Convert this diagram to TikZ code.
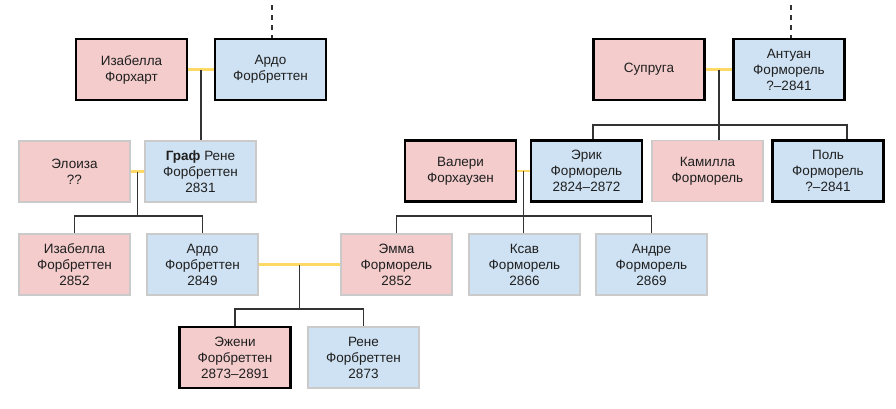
\documentclass[tikz,border=0pt]{standalone}
\usepackage{fontspec}
\setmainfont{Liberation Sans}
\usetikzlibrary{calc}
\definecolor{rosa}{HTML}{F4CCCC}
\definecolor{celeste}{HTML}{CFE2F3}
\definecolor{rim}{HTML}{CACACA}
\definecolor{wed}{HTML}{FFD966}
\definecolor{kin}{HTML}{333333}

\begin{document}
\begin{tikzpicture}[x=1pt,y=-1pt,
	person/.style={minimum width=111pt,minimum height=61pt,inner sep=0pt,align=center,
		font=\fontsize{13.5}{16}\selectfont,text=black!88,draw=rim,line width=1.2pt},
	she/.style={person,fill=rosa},
	he/.style={person,fill=celeste},
	main/.style={draw=black,line width=2.2pt},
	wedline/.style={draw=wed,line width=2.2pt},
	kinline/.style={draw=kin,line width=1.3pt}]
			%%%%% START %%%%%
			\useasboundingbox (0,0) rectangle (896,408);
			
			% generation 1
			\node[she,main] (isaFh) at (131.5,69.5) {Изабелла\\Форхарт};
			\node[he,main] (ardoA) at (270.5,69.5) {Ардо\\Форбреттен};
			\node[she,main] (suprug) at (649,69.5) {Супруга};
			\node[he,main] (antuan) at (789,69.5) {Антуан\\Форморель\\?--2841};
			
			% generation 2
			\node[she] (eloiz) at (74.5,171.5) {Элоиза\\??};
			\node[he] (reneA) at (200.5,171.5) {\textbf{Граф} Рене\\Форбреттен\\2831};
			\node[she,main] (valer) at (460.5,171) {Валери\\Форхаузен};
			\node[he,main] (erik) at (586.5,171) {Эрик\\Форморель\\2824--2872};
			\node[she] (kamil) at (707.5,171) {Камилла\\Форморель};
			\node[he,main] (pol) at (828,171) {Поль\\Форморель\\?--2841};
			
			% generation 3
			\node[she] (isaFb) at (74.5,264.5) {Изабелла\\Форбреттен\\2852};
			\node[he] (ardoB) at (202.5,264.5) {Ардо\\Форбреттен\\2849};
			\node[she] (emma) at (396.5,264.5) {Эмма\\Форморель\\2852};
			\node[he] (ksav) at (524.5,264.5) {Ксав\\Форморель\\2866};
			\node[he] (andre) at (651.5,264.5) {Андре\\Форморель\\2869};
			
			% generation 4
			\node[she,main] (eugen) at (235,357.5) {Эжени\\Форбреттен\\2873--2891};
			\node[he] (reneB) at (363.5,357.5) {Рене\\Форбреттен\\2873};
			
			% ancestors off the chart
			\coordinate (upA) at (272,5);
			\coordinate (upB) at (791,5);
			\draw[kinline,dash pattern=on 5pt off 5pt] (upA) -- (upA |- ardoA.north);
			\draw[kinline,dash pattern=on 5pt off 5pt] (upB) -- (upB |- antuan.north);
			
			% Изабелла + Ардо
			\draw[wedline] (isaFh.east) -- (ardoA.west);
			\coordinate (mA) at ($(isaFh.east)!0.5!(ardoA.west)$);
			\draw[kinline] (mA) -- (mA |- reneA.north);
			
			% Элоиза + Рене
			\draw[wedline] (eloiz.east) -- (reneA.west);
			\coordinate (mB) at ($(eloiz.east)!0.5!(reneA.west)$);
			\coordinate (jB) at (mB |- 0,216);
			\draw[kinline] (mB) -- (jB);
			\draw[kinline] (isaFb.north) |- (jB) -| (ardoB.north);
			
			% Супруга + Антуан
			\draw[wedline] (suprug.east) -- (antuan.west);
			\coordinate (mC) at ($(suprug.east)!0.5!(antuan.west)$);
			\coordinate (jC) at (mC |- 0,125);
			\draw[kinline] (mC) -- (mC |- kamil.north);
			\draw[kinline] ([xshift=6.5pt]erik.north) |- (jC) -| ([xshift=19pt]pol.north);
			
			% Валери + Эрик
			\draw[wedline] (valer.east) -- (erik.west);
			\coordinate (mD) at ($(valer.east)!0.5!(erik.west)$);
			\coordinate (jD) at (mD |- 0,216);
			\draw[kinline] (mD) -- (mD |- ksav.north);
			\draw[kinline] (emma.north) |- (jD) -| (andre.north);
			
			% Ардо + Эмма
			\draw[wedline] (ardoB.east) -- (emma.west);
			\coordinate (mE) at ($(ardoB.east)!0.5!(emma.west)$);
			\coordinate (jE) at (mE |- 0,309);
			\draw[kinline] (mE) -- (jE);
			\draw[kinline] (eugen.north) |- (jE) -| (reneB.north);
			%%%%% END %%%%%
\end{tikzpicture}
\end{document}
